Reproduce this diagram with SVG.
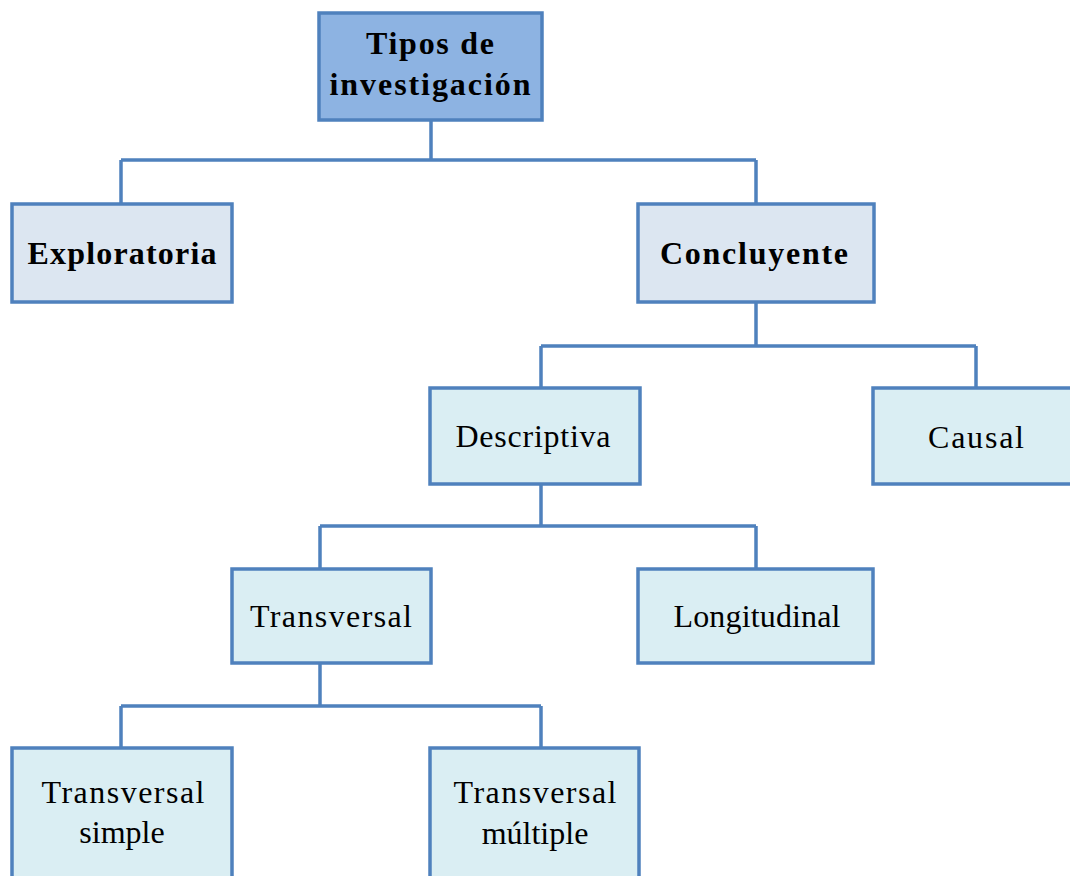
<svg xmlns="http://www.w3.org/2000/svg" width="1070" height="876" viewBox="0 0 1070 876">
<style>
.box{stroke:#4f81bd;stroke-width:3.5}
.top{fill:#8db3e2}
.l1{fill:#dce6f1}
.l2{fill:#daeef3}
.b{font-family:"Liberation Serif","Times New Roman",serif;font-weight:bold;font-size:32px;fill:#000;text-anchor:middle}
.r{font-family:"Liberation Serif","Times New Roman",serif;font-size:32px;fill:#000;text-anchor:middle}
.c{fill:none;stroke:#4f81bd;stroke-width:3.5}
</style>
<g id="connectors">
<path class="c" d="M431 120V160M121 160H756M121 160V204M756 160V204"/>
<path class="c" d="M756 303V346M541 346H976M541 346V388M976 346V388"/>
<path class="c" d="M541 484V526M320 526H756M320 526V569M756 526V569"/>
<path class="c" d="M320 663V706M121 706H541M121 706V748M541 706V748"/>
</g>
<g id="tipos">
<rect class="box top" x="319" y="13" width="223" height="107"/>
<text class="b" x="430" y="54" textLength="128" lengthAdjust="spacing">Tipos de</text>
<text class="b" x="430" y="95" textLength="201" lengthAdjust="spacing">investigación</text>
</g>
<g id="exploratoria">
<rect class="box l1" x="12" y="204" width="220" height="98"/>
<text class="b" x="122" y="264" textLength="189" lengthAdjust="spacing">Exploratoria</text>
</g>
<g id="concluyente">
<rect class="box l1" x="638" y="204" width="236" height="98"/>
<text class="b" x="754" y="264" textLength="188" lengthAdjust="spacing">Concluyente</text>
</g>
<g id="descriptiva">
<rect class="box l2" x="430" y="388" width="210" height="96"/>
<text class="r" x="533" y="447" textLength="155" lengthAdjust="spacing">Descriptiva</text>
</g>
<g id="causal">
<rect class="box l2" x="873" y="388" width="200" height="96"/>
<text class="r" x="976" y="448" textLength="96" lengthAdjust="spacing">Causal</text>
</g>
<g id="transversal">
<rect class="box l2" x="232" y="569" width="199" height="94"/>
<text class="r" x="331" y="627" textLength="162" lengthAdjust="spacing">Transversal</text>
</g>
<g id="longitudinal">
<rect class="box l2" x="638" y="569" width="235" height="94"/>
<text class="r" x="757" y="627" textLength="167" lengthAdjust="spacing">Longitudinal</text>
</g>
<g id="transversal-simple">
<rect class="box l2" x="12" y="748" width="220" height="140"/>
<text class="r" x="123" y="803" textLength="163" lengthAdjust="spacing">Transversal</text>
<text class="r" x="122" y="843">simple</text>
</g>
<g id="transversal-multiple">
<rect class="box l2" x="430" y="748" width="209" height="140"/>
<text class="r" x="535" y="803" textLength="163" lengthAdjust="spacing">Transversal</text>
<text class="r" x="535" y="844">múltiple</text>
</g>
</svg>
